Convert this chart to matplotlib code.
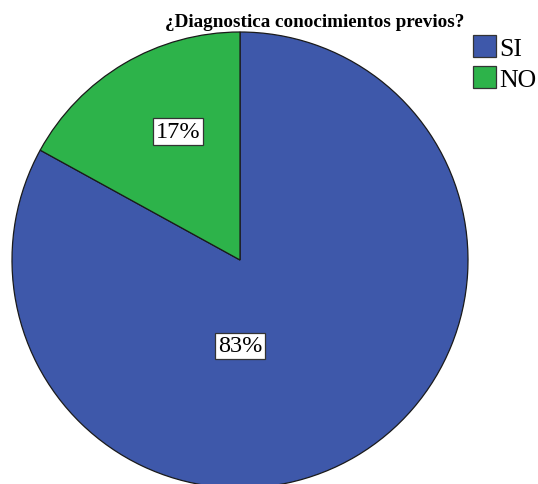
import matplotlib
matplotlib.use('Agg')
import matplotlib.pyplot as plt
from matplotlib.patches import Patch

plt.rcParams['font.family'] = ['Liberation Serif', 'DejaVu Serif']

# datos
categorias = ['SI', 'NO']
valores = [83, 17]
colores = ['#3E58AA', '#2DB34A']
titulo = '¿Diagnostica conocimientos previos?'

W, H = 538, 485
fig = plt.figure(figsize=(W / 100, H / 100), dpi=100)

# centro del pastel (240, 261) px, radio 228 px
cx, cy, R = 240, 261, 228
ax = fig.add_axes([(cx - R) / W, (H - cy - R) / H, 2 * R / W, 2 * R / H])

wedges, _ = ax.pie(valores, colors=colores, startangle=90, counterclock=False,
                   radius=1, wedgeprops=dict(edgecolor='#1a1a1a', linewidth=0.9))
for w in wedges:
    w.set_clip_on(False)
ax.set_xlim(-1, 1)
ax.set_ylim(-1, 1)
ax.axis('off')

# etiquetas de porcentaje
pos_etiquetas = [(0.0, -0.377), (-0.272, 0.564)]
for v, (x, y) in zip(valores, pos_etiquetas):
    ax.text(x, y, f'{v}%', fontsize=17.5, ha='center', va='center',
            bbox=dict(boxstyle='square,pad=0.12', facecolor='white',
                      edgecolor='#333333', linewidth=0.9))

fig.text(315 / W, 1 - 27 / H, titulo, fontsize=13.8, fontweight='bold',
         ha='center', va='baseline')

handles = [Patch(facecolor=c, edgecolor='#333333', linewidth=0.9) for c in colores]
fig.legend(handles, categorias, loc='upper left', bbox_to_anchor=(473 / W, 1 - 36 / H),
           frameon=False, fontsize=18.5, borderpad=0, borderaxespad=0,
           handlelength=0.9, handleheight=0.95, handletextpad=0.12, labelspacing=0.25)

fig.savefig('out.png', dpi=100)
